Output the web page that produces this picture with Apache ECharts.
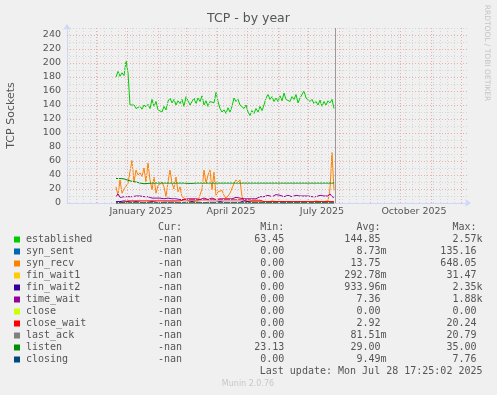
<!DOCTYPE html>
<html><head><meta charset="utf-8">
<script src="https://cdn.jsdelivr.net/npm/echarts@6/dist/echarts.min.js"></script>
<style>html,body{margin:0;padding:0;background:#F0F0F0;}#c{width:497px;height:395px;}</style>
</head><body><div id="c"></div>
<script>
// ---------- data ----------
const axisStart = '2024-11-02';
const axisEnd = '2025-12-07';
const lastUpdate = '2025-07-28';
const startDate = '2024-12-21';
const stepDays = 2;

const established = [180,188,181,186,182,203,186,140,138,140,135,137,138,134,140,137,141,135,148,138,
145,133,135,130,138,133,145,150,143,148,140,146,142,148,138,152,146,140,145,150,
142,150,145,153,140,146,138,145,147,143,158,145,135,130,133,128,136,130,138,150,
145,148,140,138,135,140,130,125,132,128,135,130,138,132,140,150,155,148,152,145,
150,145,153,146,157,148,150,145,152,148,155,143,150,148,160,150,152,145,148,142,
145,140,147,138,145,140,146,143,148,135];
const synRecv = [23,11,33,14,20,21,28,45,61,30,47,40,43,38,50,30,57,33,19,37,
14,25,23,30,23,9,30,47,28,20,37,16,23,9,7,5,4,3,2,3,
2,3,3,20,47,28,40,47,19,44,11,16,16,18,11,7,10,14,14,28,
33,30,33,9,4,3,2,3,2,4,2,3,2,3,1,2,1,2,3,1,
2,1,2,1,2,1,2,1,1,2,1,2,1,2,1,2,1,2,1,2,
3,1,2,1,2,1,3,20,72,18];
const finWait2 = [2,3,2,2,3,2,2,2,1,1,2,1,1,1,0,1,1,1,2,1,
1,1,0,1,1,1,1,2,1,1,1,1,0,1,1,1,1,1,2,1,
1,1,1,1,0,1,1,1,1,1,1,1,2,1,1,1,1,1,1,1,
1,1,1,2,3,2,2,3,1,1,1,1,1,0,1,1,1,1,1,1,
1,1,1,1,0,1,1,1,1,1,1,1,1,1,1,1,1,1,0,1,
1,1,1,1,1,1,1,1,1,1];
const timeWait = [9,13,8,10,9,11,9,10,9,11,10,9,10,8,9,8,9,8,7,8,
7,8,7,7,6,8,7,7,6,7,6,6,5,6,5,5,6,5,6,7,
6,6,5,6,7,6,5,6,7,6,5,6,6,7,6,5,6,5,6,7,
8,6,7,5,6,5,6,5,6,5,6,7,9,10,9,10,11,10,9,11,
12,14,11,10,9,10,11,10,9,10,11,9,10,11,10,9,10,11,9,10,
9,10,11,12,10,11,10,13,9,8];
const closeWait = [0,0,1,1,1,2,3,3,3,3,3,3,3,3,3,3,3,3,3,3,
3,3,3,3,3,3,3,3,3,3,3,3,3,3,4.5,4.5,4.5,4.5,4.5,4.5,
4.5,4.5,4.5,4.5,4.5,4.5,4.5,4.5,4.5,4.5,4.5,4.5,4.5,4.5,4.5,4.5,4.5,4.5,4.5,4.5,
4.5,4.5,4.5,4.5,4.5,4.5,4.5,4.5,4,4,4,4,4,4,2,2,2,2,2,2,
2,2,2,2,2,2,2,2,2,2,2,2,2,2,2,2,2,2,2,2,
2,2,2,2,2,2,2,2,2,2];
const listen = [35,35,35,35,34.5,33.5,32.5,31.5,31,31,30,29.5,28.5,28,27.5,27.5,28,28.5,28.5,28.5,
28.5,28.5,28.5,28.5,28.5,28.5,28.5,28.5,28.5,28.5,28.5,28.5,28.5,28.5,28.5,28.5,28,27.5,28,28.5,
28.5,28.5,28.5,28.5,28.5,28.5,28.5,28.5,28.5,28.5,28.5,28.5,28.5,28.5,28.5,28.5,28.5,28.5,28.5,28.5,
28.5,28.5,28.5,28.5,28.5,28.5,28.5,28.5,28.5,28.5,28.5,28.5,28.5,28.5,28.5,28.5,28.5,28.5,28.5,28.5,
28.5,28.5,28.5,28.5,28.5,28.5,28.5,28.5,28.5,28.5,28.5,28.5,28.5,28.5,28.5,28.5,28.5,28.5,28.5,28.5,
28.5,28.5,28.5,28.5,28.5,28.5,28.5,28.5,28.5,28.5];
const flatDates = ['2024-12-21', '2025-07-27'];
const synSent = [0, 0];
const finWait1 = [0, 0];
const closeState = [0, 0];
const lastAck = [0, 0];
const closing = [0, 0];

const yTickLabels = [0,20,40,60,80,100,120,140,160,180,200,220,240];
const yMinorTicks = [10,30,50,70,90,110,130,150,170,190,210,230,250];
const xTickLabels = ['January 2025','April 2025','July 2025','October 2025'];
const xLabelDates = ['2025-01-15','2025-04-15','2025-07-15','2025-10-15'];

const legendNames = ['established','syn_sent','syn_recv','fin_wait1','fin_wait2','time_wait','close','close_wait','last_ack','listen','closing'];
const legendCur = ['-nan','-nan','-nan','-nan','-nan','-nan','-nan','-nan','-nan','-nan','-nan'];
const legendMin = ['63.45','0.00','0.00','0.00','0.00','0.00','0.00','0.00','0.00','23.13','0.00'];
const legendAvg = ['144.85','8.73m','13.75','292.78m','933.96m','7.36','0.00','2.92','81.51m','29.00','9.49m'];
const legendMax = ['2.57k','135.16','648.05','31.47','2.35k','1.88k','0.00','20.24','20.79','35.00','7.76'];
const legendHeaders = ['Cur:','Min:','Avg:','Max:'];
const lastUpdateText = 'Last update: Mon Jul 28 17:25:02 2025';

// ---------- styles ----------
const colors = ['#00CC00','#0066B3','#FF8000','#FFCC00','#330099','#990099','#CCFF00','#FF0000','#808080','#008F00','#00487D'];
const DAY = 86400000;
const ts = s => Date.parse(s + 'T00:00:00Z');
const xMin = ts(axisStart), xMax = ts(axisEnd);
const t0 = ts(startDate);

function stepped(arr){ return arr.map((v,i)=>[t0 + i*stepDays*DAY, v]); }
function flat(arr){ return arr.map((v,i)=>[ts(flatDates[i]), v]); }

// grid positions (month starts, weekly Mondays)
const monthStarts = [];
{ const d0 = new Date(xMin); let y = d0.getUTCFullYear(), m = d0.getUTCMonth()+1;
  while (true) { const t = Date.UTC(y, m, 1); if (t > xMax) break; monthStarts.push(t); m++; } }
const weekLines = [];
{ let t = xMin; while (new Date(t).getUTCDay() !== 1) t += DAY;
  for (; t <= xMax; t += 7*DAY) { if (monthStarts.indexOf(t) < 0) weekLines.push(t); } }
const labelVals = xLabelDates.map(ts);

const gridMinorStyle = {color:'#D6D6D6', width:1, type:[1,2]};
const gridMajorStyle = {color:'#EAAEAE', width:1, type:[1,2]};
function gridSeries(xs, ys, style){
  return {type:'line', data:[], silent:true, animation:false, z:1,
    markLine:{symbol:'none', silent:true, animation:false, label:{show:false}, emphasis:{disabled:true},
      lineStyle:style,
      data: xs.map(v=>({xAxis:v})).concat(ys.map(v=>({yAxis:v})))}};
}

const seriesData = [
  stepped(established), flat(synSent), stepped(synRecv), flat(finWait1), stepped(finWait2),
  stepped(timeWait), flat(closeState), stepped(closeWait), flat(lastAck), stepped(listen), flat(closing)
];

const series = [
  gridSeries(weekLines, yMinorTicks, gridMinorStyle),
  gridSeries(monthStarts, yTickLabels.filter(v=>v>0), gridMajorStyle)
];
seriesData.forEach((d,i)=>series.push({
  name: legendNames[i], type:'line', data:d, showSymbol:false, symbol:'none',
  lineStyle:{width:1, color:colors[i]}, itemStyle:{color:colors[i]}, animation:false, silent:true, z:3
}));
series.push({
  type:'line', data:[], silent:true, animation:false, z:4,
  markLine:{symbol:'none', silent:true, animation:false, label:{show:false},
    lineStyle:{color:'#9A9A9A', width:1, type:'solid'}, data:[{xAxis: ts(lastUpdate)}]}
});

// legend graphics
const FONT = '10px "DejaVu Sans Mono"';
const TXT = '#555555';
const g = [];
const rowY0 = 239.5, rowH = 12;
const colRight = [188, 290.3, 386.5, 482.5];
function pad(s){ return /[0-9n]$/.test(s) ? s + ' ' : s; }
legendHeaders.forEach((h,k)=>g.push({type:'text', x: colRight[k]-6, y: rowY0-12,
  style:{text:h, font:FONT, fill:TXT, align:'right', verticalAlign:'middle'}}));
legendNames.forEach((n,i)=>{
  const y = rowY0 + i*rowH;
  g.push({type:'rect', shape:{x:14, y:y-3, width:6, height:6}, style:{fill:colors[i]}});
  g.push({type:'text', x:26, y:y, style:{text:n, font:FONT, fill:TXT, align:'left', verticalAlign:'middle'}});
  [legendCur[i], legendMin[i], legendAvg[i], legendMax[i]].forEach((v,k)=>{
    g.push({type:'text', x:colRight[k], y:y, style:{text:pad(v), font:FONT, fill:TXT, align:'right', verticalAlign:'middle'}});
  });
});
g.push({type:'text', x:482.5, y: rowY0 + 11*rowH, style:{text:lastUpdateText, font:FONT, fill:TXT, align:'right', verticalAlign:'middle'}});
g.push({type:'text', x:248, y:384, style:{text:'Munin 2.0.76', font:'8px "DejaVu Sans"', fill:'#C8C8C8', align:'center', verticalAlign:'middle'}});
g.push({type:'text', x:487, y:53, rotation:-Math.PI/2, style:{text:'RRDTOOL / TOBI OETIKER', font:'7.5px "DejaVu Sans"', fill:'#C4C4C4', align:'center', verticalAlign:'middle'}});

const axisCol = '#CFD6F8';
const chart = echarts.init(document.getElementById('c'));
chart.setOption({
  backgroundColor:'#F0F0F0',
  animation:false,
  title:{text:'TCP - by year', left:'center', top:12, padding:0,
    textStyle:{fontSize:12.5, fontWeight:'normal', color:'#555555', fontFamily:'DejaVu Sans'}},
  grid:{left:67, right:30, top:28, bottom:192, outerBoundsMode:'none', containLabel:false},
  xAxis:{type:'value', min:xMin, max:xMax, position:'bottom',
     axisLine:{show:true, onZero:false, lineStyle:{color:axisCol, width:1}, symbol:['none','arrow'], symbolSize:[6,6], symbolOffset:[0,4]},
     axisTick:{show:false},
     splitLine:{show:false},
     axisLabel:{show:true, customValues: labelVals, margin:4, color:'#555555', fontSize:9.5, fontFamily:'DejaVu Sans',
       formatter:(v)=>{ const k = labelVals.indexOf(v); return k>=0 ? xTickLabels[k] : ''; }}},
  yAxis:{type:'value', min:0, max:250, position:'left',
     name:'TCP Sockets', nameLocation:'middle', nameGap:50,
     nameTextStyle:{fontSize:11, color:'#555555', fontFamily:'DejaVu Sans'},
     axisLine:{show:true, onZero:false, lineStyle:{color:axisCol, width:1}, symbol:['none','arrow'], symbolSize:[6,6], symbolOffset:[0,4]},
     axisTick:{show:false},
     splitLine:{show:false},
     axisLabel:{show:true, customValues: yTickLabels, margin:6, color:'#555555', fontSize:9.5, fontFamily:'DejaVu Sans'}},
  series: series,
  graphic: g
});
</script>
</body></html>
